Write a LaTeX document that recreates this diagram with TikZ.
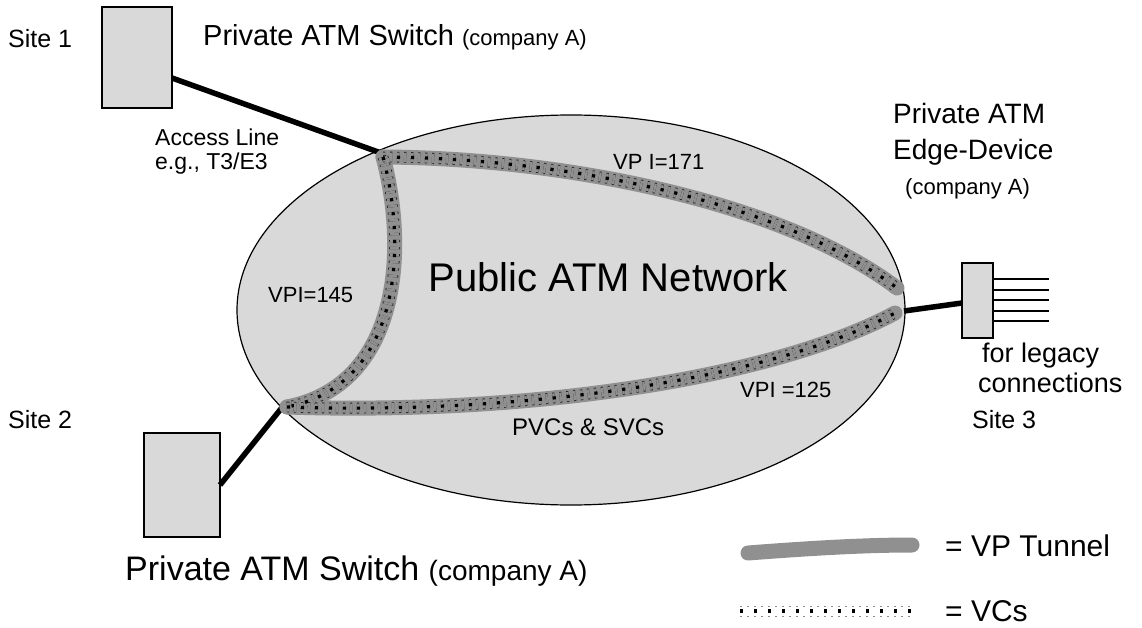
\documentclass[tikz,border=0pt]{standalone}
\usepackage{fontspec}
\setmainfont{Liberation Sans}
\usetikzlibrary{shapes.geometric}
\definecolor{boxgray}{HTML}{D9D9D9}
\definecolor{tunnelgray}{HTML}{909090}
\newcommand{\fs}[1]{\fontsize{#1}{#1}\selectfont}
\begin{document}
\begin{tikzpicture}[x=1pt,y=-1pt,
  lbl/.style={inner sep=0pt, anchor=base west},
  devbox/.style={draw, line width=1.3pt, fill=boxgray, inner sep=0pt},
  accessline/.style={line width=5.5pt, black},
  tunnel/.style={line width=15pt, tunnelgray, line cap=round},
  vcside/.style={black!85, line width=0.9pt, double=tunnelgray, double distance=9pt, dash pattern=on 2.2pt off 4.8pt},
  vccore/.style={black, line width=3.2pt, dash pattern=on 3.2pt off 10.8pt},
  legacy/.style={line width=1.4pt, black}]
\useasboundingbox (0,0) rectangle (1142,628);

% public network cloud
\node[draw, line width=1.2pt, fill=boxgray, ellipse, minimum width=668pt, minimum height=390pt, inner sep=0pt] (net) at (571,310) {};
\node[anchor=center, inner sep=0pt] (netlbl) at (608,277) {\fs{40}Public ATM Network};

% junction points of the tunnels on the network border
\coordinate (j1) at (383,157);
\coordinate (j2) at (287,407);
\coordinate (j3) at (897,288);
\coordinate (j4) at (895,313);

% devices
\node[devbox, minimum width=70pt, minimum height=101pt] (s1) at (137,57.5) {};
\node[devbox, minimum width=76pt, minimum height=104pt] (s2) at (182,485) {};
\node[devbox, minimum width=31pt, minimum height=75pt] (edge) at (977.5,300.5) {};

% access lines
\coordinate (s1a) at (172,78);
\coordinate (s2a) at (220,485);
\coordinate (ea) at (962,303);
\coordinate (j1a) at (381,153);
\coordinate (j2a) at (284,405);
\coordinate (j5) at (904,311);
\draw[accessline] (s1a) -- (j1a);
\draw[accessline] (s2a) -- (j2a);
\draw[accessline] (j5) -- (ea);

% legacy connections
\foreach \y [count=\i] in {279,290,300,311,321}{
  \coordinate (la\i) at (993,\y);
  \coordinate (lb\i) at (1049,\y);
  \draw[legacy] (la\i) -- (lb\i);
}

% VP tunnels
\def\toppath{(j1) .. controls (560,158) and (780,200) .. (j3)}
\def\leftpath{(j1) .. controls (408,250) and (400,385) .. (j2)}
\def\botpath{(j2) .. controls (520,415) and (770,380) .. (j4)}
\foreach \p in {\toppath,\leftpath,\botpath}{
  \draw[tunnel] \p;
}
\foreach \p in {\toppath,\leftpath,\botpath}{
  \draw[vcside] \p;
  \draw[vccore] \p;
}

% labels
\node[lbl] (site1) at (8,48) {\fs{25}Site 1};
\node[lbl] (sw1) at (203,46) {\fs{29}Private ATM Switch \fs{22}(company A)};
\node[lbl] (acc1) at (155,146) {\fs{23}Access Line};
\node[lbl] (acc2) at (155,170) {\fs{23}e.g., T3/E3};
\node[lbl] (vp171) at (613,170) {\fs{22}VP I=171};
\node[lbl] (ed1) at (893,124) {\fs{28}Private ATM};
\node[lbl] (ed2) at (893,160) {\fs{28}Edge-Device};
\node[lbl] (ed3) at (905,195) {\fs{22}(company A)};
\node[lbl] (vp145) at (268,302) {\fs{22}VPI=145};
\node[lbl] (leg1) at (982,362) {\fs{27}for legacy};
\node[lbl] (leg2) at (978,392) {\fs{27}connections};
\node[lbl] (vp125) at (740,397) {\fs{22}VPI =125};
\node[lbl] (pvc) at (512,435) {\fs{24}PVCs \& SVCs};
\node[lbl] (site2) at (8,428) {\fs{25}Site 2};
\node[lbl] (site3) at (972,428) {\fs{25}Site 3};
\node[lbl] (sw2) at (125,580) {\fs{34}Private ATM Switch \fs{28}(company A)};

% legend
\coordinate (lt1) at (748,553);
\coordinate (lt2) at (912,545);
\draw[tunnel] (lt1) .. controls (800,549) and (860,545) .. (lt2);
\node[lbl] (ltx) at (945,556) {\fs{30}= VP Tunnel};
\coordinate (lv1) at (740,611);
\coordinate (lv2) at (912,611);
\draw[black!45, line width=1pt, double=white, double distance=9pt, dash pattern=on 2.2pt off 4.8pt] (lv1) -- (lv2);
\draw[vccore] (lv1) -- (lv2);
\node[lbl] (lvx) at (945,621) {\fs{30}= VCs};
\end{tikzpicture}
\end{document}
